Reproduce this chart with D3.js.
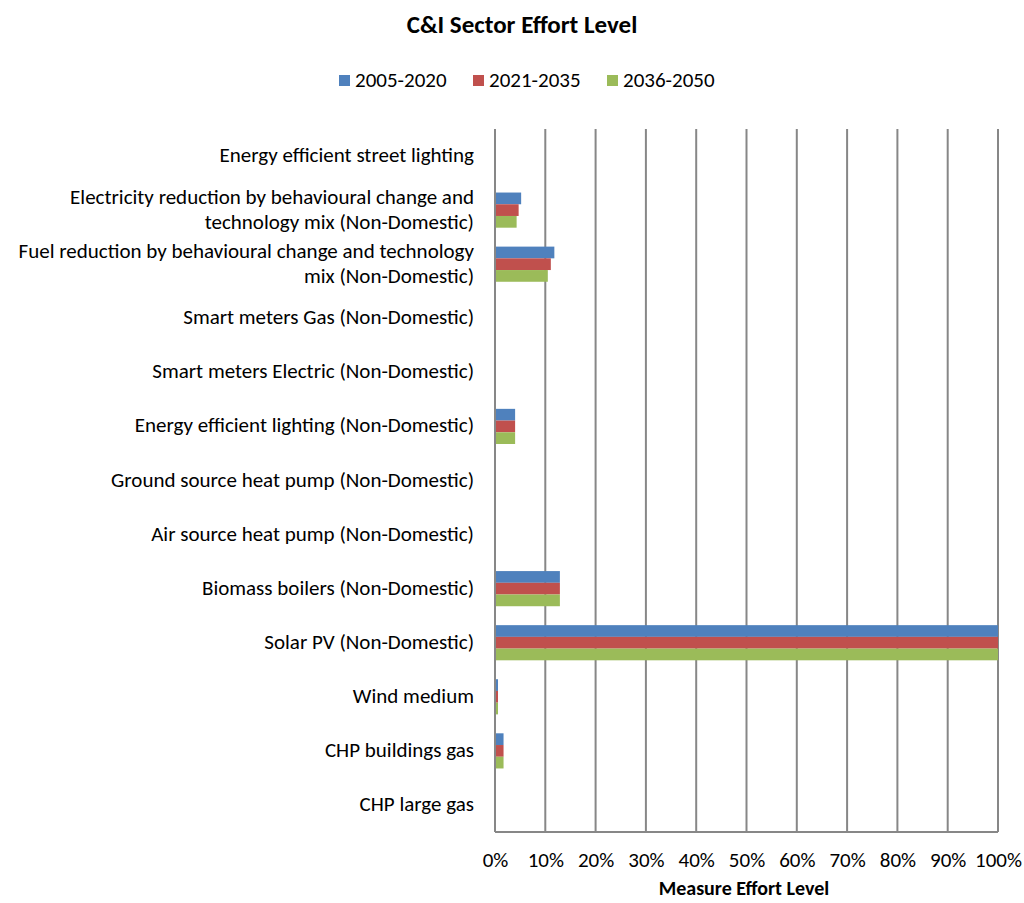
<!DOCTYPE html>
<html><head><meta charset="utf-8">
<script src="https://cdn.jsdelivr.net/npm/d3@7"></script>
<style>body{margin:0;background:#fff}svg{display:block}text{font-family:Carlito,Calibri,Lato,"Open Sans",sans-serif;fill:#000}</style>
</head><body><svg id="c" width="1024" height="903"></svg>
<script>
const categories = [
  "Energy efficient street lighting",
  "Electricity reduction by behavioural change and\ntechnology mix (Non-Domestic)",
  "Fuel reduction by behavioural change and technology\nmix (Non-Domestic)",
  "Smart meters Gas (Non-Domestic)",
  "Smart meters Electric (Non-Domestic)",
  "Energy efficient lighting (Non-Domestic)",
  "Ground source heat pump (Non-Domestic)",
  "Air source heat pump (Non-Domestic)",
  "Biomass boilers (Non-Domestic)",
  "Solar PV (Non-Domestic)",
  "Wind medium",
  "CHP buildings gas",
  "CHP large gas"
];
const seriesNames = ["2005-2020", "2021-2035", "2036-2050"];
const s2005_2020 = [0, 5.0, 11.6, 0, 0, 3.8, 0, 0, 12.7, 100, 0.4, 1.5, 0];
const s2021_2035 = [0, 4.5, 10.9, 0, 0, 3.8, 0, 0, 12.7, 100, 0.4, 1.5, 0];
const s2036_2050 = [0, 4.1, 10.3, 0, 0, 3.8, 0, 0, 12.7, 100, 0.4, 1.5, 0];
const seriesValues = [s2005_2020, s2021_2035, s2036_2050];
const colors = ["#4F81BD", "#C0504D", "#9BBB59"];
const ticks = [0,10,20,30,40,50,60,70,80,90,100];
const title = "C&I Sector Effort Level";
const xTitle = "Measure Effort Level";

const svg = d3.select("#c");
const L = 495, R = 998, T = 129, B = 832;
const x = d3.scaleLinear().domain([0,100]).range([L,R]);
const y = d3.scaleBand().domain(d3.range(categories.length)).range([T,B]).paddingInner(0.35).paddingOuter(0.175);
const ys = d3.scaleBand().domain(d3.range(3)).range([0, y.bandwidth()]);

// gridlines
svg.append("g").selectAll("line").data(ticks).join("line")
  .attr("x1", d=>x(d)).attr("x2", d=>x(d)).attr("y1", T).attr("y2", B)
  .attr("stroke", "#878787").attr("stroke-width", 2);
svg.append("line").attr("x1", L).attr("x2", R).attr("y1", B).attr("y2", B).attr("stroke", "#878787").attr("stroke-width", 2);

// bars
const g = svg.append("g");
seriesValues.forEach((vals, si) => {
  g.append("g").selectAll("rect").data(vals).join("rect")
    .attr("x", x(0)+1).attr("y", (d,i)=>y(i)+ys(si))
    .attr("width", d=>Math.max(0, x(d)-x(0)-(d>=100?1:0))).attr("height", ys.bandwidth())
    .attr("fill", colors[si]).style("display", d=>d>0?null:"none");
});

// x axis tick labels
const xa = d3.axisBottom(x).tickValues(ticks).tickFormat(d=>d+"%").tickSize(0).tickPadding(0);
const xg = svg.append("g").attr("transform", `translate(0,${B+35})`).call(xa);
xg.select(".domain").remove();
xg.selectAll("text").attr("dy", null).style("font-size","21px").style("font-family", null).attr("fill","#000");

// y category labels
const ya = d3.axisLeft(y).tickFormat("").tickSize(0);
const yg = svg.append("g").attr("transform", `translate(${L},0)`).call(ya);
yg.select(".domain").remove();
yg.selectAll(".tick").each(function(i){
  const lines = categories[i].split("\n");
  const t = d3.select(this).append("text").attr("text-anchor","end").attr("x",-21)
    .style("font-size","21px").attr("fill","#000");
  const lh = 25;
  lines.forEach((ln,k)=>{
    t.append("tspan").attr("x",-21).attr("y", (k-(lines.length-1)/2)*lh + 6).text(ln);
  });
});

// title
svg.append("text").attr("x", 522).attr("y", 33).attr("text-anchor","middle")
  .style("font-size","25px").style("font-weight","bold").text(title);
svg.append("text").attr("x", 744).attr("y", 895).attr("text-anchor","middle")
  .style("font-size","20px").style("font-weight","bold").text(xTitle);

// legend
const legX = [339, 473, 607];
const lg = svg.append("g");
seriesNames.forEach((n,i)=>{
  lg.append("rect").attr("x", legX[i]).attr("y", 75).attr("width", 11).attr("height", 11).attr("fill", colors[i]);
  lg.append("text").attr("x", legX[i]+16).attr("y", 87).style("font-size","21px").text(n);
});
</script></body></html>
